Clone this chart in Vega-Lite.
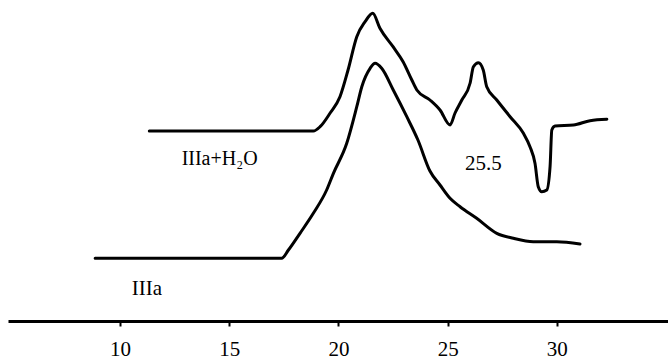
{
  "$schema": "https://vega.github.io/schema/vega-lite/v6.json",
  "autosize": {"type": "none"},
  "width": 660,
  "height": 321,
  "padding": {"left": 8, "top": 0, "right": 0, "bottom": 39},
  "background": "white",
  "config": {"view": {"stroke": null}},
  "datasets": {
    "curves": [
      {"series": "IIIa+H2O", "t": 11.34, "v": 190},
      {"series": "IIIa+H2O", "t": 18.85, "v": 190},
      {"series": "IIIa+H2O", "t": 19.16, "v": 194.3},
      {"series": "IIIa+H2O", "t": 19.62, "v": 208},
      {"series": "IIIa+H2O", "t": 20.07, "v": 224.3},
      {"series": "IIIa+H2O", "t": 20.44, "v": 251},
      {"series": "IIIa+H2O", "t": 20.84, "v": 284.3},
      {"series": "IIIa+H2O", "t": 21.22, "v": 299.3},
      {"series": "IIIa+H2O", "t": 21.57, "v": 307.7},
      {"series": "IIIa+H2O", "t": 21.90, "v": 292.7},
      {"series": "IIIa+H2O", "t": 22.50, "v": 274.3},
      {"series": "IIIa+H2O", "t": 22.96, "v": 259.3},
      {"series": "IIIa+H2O", "t": 23.36, "v": 241},
      {"series": "IIIa+H2O", "t": 23.59, "v": 231},
      {"series": "IIIa+H2O", "t": 24.19, "v": 221},
      {"series": "IIIa+H2O", "t": 24.65, "v": 211},
      {"series": "IIIa+H2O", "t": 25.11, "v": 196},
      {"series": "IIIa+H2O", "t": 25.34, "v": 208},
      {"series": "IIIa+H2O", "t": 25.65, "v": 221},
      {"series": "IIIa+H2O", "t": 26.03, "v": 238},
      {"series": "IIIa+H2O", "t": 26.18, "v": 254.3},
      {"series": "IIIa+H2O", "t": 26.41, "v": 258.3},
      {"series": "IIIa+H2O", "t": 26.63, "v": 251},
      {"series": "IIIa+H2O", "t": 26.79, "v": 234.3},
      {"series": "IIIa+H2O", "t": 27.25, "v": 221},
      {"series": "IIIa+H2O", "t": 27.86, "v": 204.3},
      {"series": "IIIa+H2O", "t": 28.47, "v": 187.7},
      {"series": "IIIa+H2O", "t": 28.77, "v": 174.3},
      {"series": "IIIa+H2O", "t": 29.00, "v": 157.7},
      {"series": "IIIa+H2O", "t": 29.15, "v": 134.3},
      {"series": "IIIa+H2O", "t": 29.31, "v": 129.3},
      {"series": "IIIa+H2O", "t": 29.54, "v": 131},
      {"series": "IIIa+H2O", "t": 29.69, "v": 154.3},
      {"series": "IIIa+H2O", "t": 29.77, "v": 191},
      {"series": "IIIa+H2O", "t": 29.92, "v": 195},
      {"series": "IIIa+H2O", "t": 30.76, "v": 196},
      {"series": "IIIa+H2O", "t": 31.52, "v": 200.3},
      {"series": "IIIa+H2O", "t": 32.29, "v": 201.7},
      {"series": "IIIa", "t": 8.86, "v": 62.7},
      {"series": "IIIa", "t": 17.40, "v": 62.7},
      {"series": "IIIa", "t": 17.71, "v": 71},
      {"series": "IIIa", "t": 18.24, "v": 87.7},
      {"series": "IIIa", "t": 18.85, "v": 107.7},
      {"series": "IIIa", "t": 19.46, "v": 131},
      {"series": "IIIa", "t": 19.77, "v": 147.7},
      {"series": "IIIa", "t": 20.38, "v": 177.7},
      {"series": "IIIa", "t": 20.84, "v": 214.3},
      {"series": "IIIa", "t": 21.07, "v": 234.3},
      {"series": "IIIa", "t": 21.45, "v": 252.7},
      {"series": "IIIa", "t": 21.68, "v": 257.7},
      {"series": "IIIa", "t": 21.98, "v": 252.7},
      {"series": "IIIa", "t": 22.51, "v": 231},
      {"series": "IIIa", "t": 23.13, "v": 204.3},
      {"series": "IIIa", "t": 23.64, "v": 181},
      {"series": "IIIa", "t": 24.19, "v": 150},
      {"series": "IIIa", "t": 24.65, "v": 136},
      {"series": "IIIa", "t": 25.11, "v": 122.7},
      {"series": "IIIa", "t": 25.57, "v": 114.3},
      {"series": "IIIa", "t": 26.33, "v": 102.7},
      {"series": "IIIa", "t": 27.25, "v": 87.7},
      {"series": "IIIa", "t": 28.01, "v": 82.7},
      {"series": "IIIa", "t": 28.92, "v": 79.3},
      {"series": "IIIa", "t": 30.00, "v": 79.3},
      {"series": "IIIa", "t": 31.06, "v": 77}
    ],
    "labels": [
      {"label": "IIIa+H₂O", "t": 12.82, "v": 156, "size": 20},
      {"label": "IIIa", "t": 10.54, "v": 26, "size": 21},
      {"label": "25.5", "t": 25.80, "v": 151, "size": 21}
    ]
  },
  "layer": [
    {
      "data": {"name": "curves"},
      "mark": {"type": "line", "color": "black", "strokeWidth": 3, "interpolate": "monotone", "strokeJoin": "round", "strokeCap": "round"},
      "encoding": {
        "x": {
          "field": "t", "type": "quantitative",
          "scale": {"domain": [4.87, 35.09], "nice": false, "zero": false},
          "axis": {
            "title": null, "grid": false, "values": [10, 15, 20, 25, 30],
            "domainColor": "black", "domainWidth": 3,
            "tickColor": "black", "tickWidth": 2, "tickSize": 5,
            "labelFont": "Liberation Serif", "labelFontSize": 21, "labelColor": "black",
            "labelPadding": 12
          }
        },
        "y": {
          "field": "v", "type": "quantitative",
          "scale": {"domain": [0, 321], "nice": false},
          "axis": null
        },
        "detail": {"field": "series"}
      }
    },
    {
      "data": {"name": "labels"},
      "mark": {"type": "text", "align": "left", "baseline": "alphabetic", "font": "Liberation Serif", "color": "black"},
      "encoding": {
        "x": {"field": "t", "type": "quantitative"},
        "y": {"field": "v", "type": "quantitative"},
        "text": {"field": "label"},
        "size": {"field": "size", "type": "quantitative", "scale": null}
      }
    }
  ]
}
